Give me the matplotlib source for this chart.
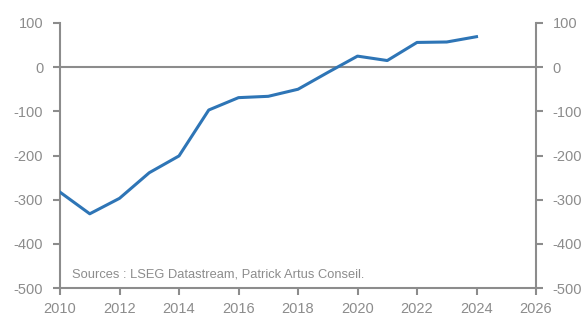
import matplotlib
matplotlib.use('Agg')
import matplotlib.pyplot as plt

years = [2010, 2011, 2012, 2013, 2014, 2015, 2016, 2017, 2018, 2019, 2020, 2021, 2022, 2023, 2024]
values = [-283, -332, -297, -239, -201, -97, -69, -66, -50, -12, 25, 15, 56, 57, 69]

x_ticks = list(range(2010, 2027, 2))
y_ticks = list(range(-500, 101, 100))
source_text = 'Sources : LSEG Datastream, Patrick Artus Conseil.'

grey = '#8c8c8c'
blue = '#2e75b6'

plt.rcParams['font.family'] = ['Liberation Sans', 'DejaVu Sans']
plt.rcParams['axes.unicode_minus'] = False

fig = plt.figure(figsize=(5.82, 3.18), dpi=100)
ax = fig.add_axes([60 / 582, 30 / 318, 476 / 582, 265 / 318])

ax.axhline(0, color=grey, lw=1.5, zorder=1)
ax.plot(years, values, color=blue, lw=2.2, zorder=3, solid_joinstyle='round')

ax.set_xlim(2010, 2026)
ax.set_ylim(-500, 100)
ax.set_xticks(x_ticks)
ax.set_yticks(y_ticks)

ax.spines['top'].set_visible(False)
for s in ['left', 'right', 'bottom']:
    ax.spines[s].set_color(grey)
    ax.spines[s].set_linewidth(1.5)

ax.tick_params(axis='both', colors=grey, labelcolor=grey, labelsize=10.5,
               width=1.5, length=5, pad=7)
ax.tick_params(axis='y', left=True, right=True, labelleft=True, labelright=True)
ax.tick_params(axis='x', pad=5)

ax.text(0.025, 0.03, source_text, transform=ax.transAxes, color=grey,
        fontsize=9.3, ha='left', va='bottom')

fig.savefig('out.png', dpi=100)
